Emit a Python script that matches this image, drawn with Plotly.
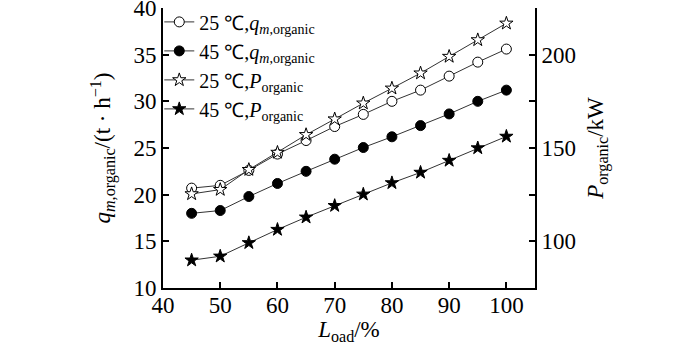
import plotly.graph_objects as go

load = [45, 50, 55, 60, 65, 70, 75, 80, 85, 90, 95, 100]
q25 = [20.7, 21.0, 22.6, 24.35, 25.8, 27.3, 28.6, 30.0, 31.2, 32.7, 34.2, 35.6]
q45 = [18.0, 18.3, 19.8, 21.2, 22.5, 23.8, 25.05, 26.2, 27.4, 28.65, 30.0, 31.2]
p25 = [125.4, 127.7, 138.4, 147.6, 157.1, 165.5, 174.0, 182.0, 190.1, 199.0, 207.9, 216.8]
p45 = [89.9, 92.0, 99.2, 106.3, 112.9, 119.1, 125.2, 131.3, 136.9, 143.3, 150.0, 156.2]

names = ["25 ℃,<i>q</i><sub><i>m</i>,organic</sub>",
         "45 ℃,<i>q</i><sub><i>m</i>,organic</sub>",
         "25 ℃,<i>P</i><sub>organic</sub>",
         "45 ℃,<i>P</i><sub>organic</sub>"]

FONT = "Liberation Serif"
LC = "#333333"

fig = go.Figure()
fig.add_trace(go.Scatter(x=load, y=q25, name=names[0], mode="lines+markers",
                         line=dict(color=LC, width=1),
                         marker=dict(symbol="circle", size=10, color="white",
                                     line=dict(color="black", width=1))))
fig.add_trace(go.Scatter(x=load, y=q45, name=names[1], mode="lines+markers",
                         line=dict(color=LC, width=1),
                         marker=dict(symbol="circle", size=10, color="black",
                                     line=dict(color="black", width=1))))
fig.add_trace(go.Scatter(x=load, y=p25, name=names[2], mode="lines+markers", yaxis="y2",
                         line=dict(color=LC, width=1),
                         marker=dict(symbol="star", size=10, color="white",
                                     line=dict(color="black", width=1))))
fig.add_trace(go.Scatter(x=load, y=p45, name=names[3], mode="lines+markers", yaxis="y2",
                         line=dict(color=LC, width=1),
                         marker=dict(symbol="star", size=10, color="black",
                                     line=dict(color="black", width=1))))

def tf(size):
    return dict(family=FONT, size=size, color="black")

axis_common = dict(showline=True, linecolor="black", linewidth=2, ticks="inside",
                   ticklen=6, tickwidth=1.5, tickcolor="black", showgrid=False,
                   zeroline=False, ticklabeloverflow="allow", automargin=False)

fig.update_layout(
    width=700, height=345,
    margin=dict(l=163, r=165, t=2, b=57),
    paper_bgcolor="white", plot_bgcolor="white",
    font=tf(23),
    showlegend=True,
    legend=dict(x=-0.01, y=1.02, xanchor="left", yanchor="top", bgcolor="rgba(0,0,0,0)",
                font=tf(20), tracegroupgap=0, itemwidth=30),
    xaxis=dict(range=[40, 105], tickvals=[40, 50, 60, 70, 80, 90, 100],
               tickfont=tf(23), ticklabelstandoff=-5,
               title=dict(text="<i>L</i><sub>oad</sub>/%", font=tf(23), standoff=4),
               **axis_common),
    yaxis=dict(range=[10, 40], tickvals=[10, 15, 20, 25, 30, 35, 40],
               tickfont=tf(23),
               title=dict(text="<i>q</i><sub><i>m</i>,organic</sub>/(t · h<sup>−1</sup>)",
                          font=tf(23), standoff=16),
               **axis_common),
    yaxis2=dict(range=[75, 225], overlaying="y", side="right",
                tickvals=[75, 100, 125, 150, 175, 200, 225],
                ticktext=["", "100", "", "150", "", "200", ""],
                tickfont=tf(23),
                title=dict(text="<i>P</i><sub>organic</sub>/kW", font=tf(23), standoff=12),
                **axis_common),
)

fig.write_html("out.html")
